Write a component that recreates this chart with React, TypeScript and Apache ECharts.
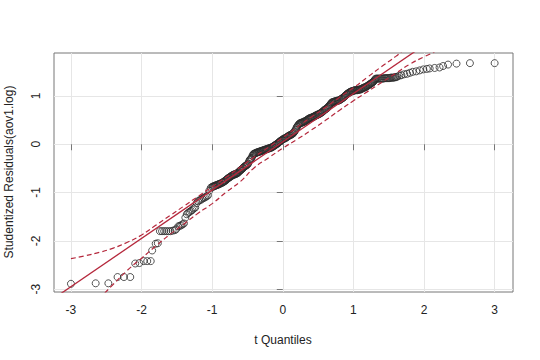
import React, { useEffect, useRef } from "react";
import * as echarts from "echarts";

const xTicks = [-3, -2, -1, 0, 1, 2, 3];
const yTicks = [-3, -2, -1, 0, 1];
const xTitle = "t Quantiles";
const yTitle = "Studentized Residuals(aov1.log)";

const points: [number, number][] = [
  [-3.0, -2.89], [-2.65, -2.88], [-2.47, -2.88], [-2.34, -2.75], [-2.25, -2.75], [-2.16, -2.75],
  [-2.09, -2.47], [-2.03, -2.46], [-1.97, -2.42], [-1.92, -2.42], [-1.87, -2.42], [-1.85, -2.2],
  [-1.8, -2.06], [-1.77, -2.05], [-1.74, -1.8], [-1.71, -1.8], [-1.68, -1.8], [-1.65, -1.8],
  [-1.62, -1.8], [-1.59, -1.8], [-1.56, -1.79], [-1.53, -1.78], [-1.51, -1.76], [-1.48, -1.7],
  [-1.46, -1.69], [-1.44, -1.68], [-1.42, -1.66], [-1.4, -1.64], [-1.38, -1.52], [-1.36, -1.45],
  [-1.34, -1.42], [-1.32, -1.4], [-1.3, -1.38], [-1.28, -1.36], [-1.26, -1.33], [-1.24, -1.31],
  [-1.22, -1.22], [-1.2, -1.18], [-1.18, -1.16], [-1.16, -1.15], [-1.14, -1.13], [-1.12, -1.11],
  [-1.1, -1.1], [-1.08, -1.08], [-1.06, -1.06], [-1.04, -0.96], [-1.02, -0.9], [-1.0, -0.88],
  [-0.99, -0.88], [-0.97, -0.87], [-0.95, -0.85], [-0.93, -0.84], [-0.91, -0.83], [-0.89, -0.82],
  [-0.98, -0.87], [-0.96, -0.86], [-0.94, -0.85], [-0.92, -0.84], [-0.9, -0.82], [-0.88, -0.81],
  [-0.86, -0.8], [-0.84, -0.78], [-0.82, -0.76], [-0.8, -0.74], [-0.78, -0.71], [-0.76, -0.69],
  [-0.85, -0.79], [-0.83, -0.77], [-0.81, -0.75], [-0.79, -0.72], [-0.77, -0.7], [-0.75, -0.68],
  [-0.74, -0.67], [-0.72, -0.65], [-0.7, -0.63], [-0.68, -0.62], [-0.66, -0.61], [-0.64, -0.6],
  [-0.73, -0.66], [-0.71, -0.64], [-0.69, -0.63], [-0.67, -0.62], [-0.65, -0.6], [-0.63, -0.58],
  [-0.62, -0.57], [-0.6, -0.54], [-0.58, -0.52], [-0.56, -0.49], [-0.54, -0.46], [-0.52, -0.44],
  [-0.61, -0.55], [-0.59, -0.53], [-0.57, -0.5], [-0.55, -0.47], [-0.53, -0.45], [-0.51, -0.43],
  [-0.5, -0.42], [-0.48, -0.36], [-0.46, -0.31], [-0.44, -0.28], [-0.42, -0.21], [-0.4, -0.19],
  [-0.49, -0.4], [-0.47, -0.33], [-0.45, -0.3], [-0.43, -0.24], [-0.41, -0.2], [-0.39, -0.19],
  [-0.38, -0.18], [-0.36, -0.17], [-0.34, -0.16], [-0.32, -0.15], [-0.3, -0.14], [-0.28, -0.13],
  [-0.37, -0.17], [-0.35, -0.16], [-0.33, -0.15], [-0.31, -0.14], [-0.29, -0.13], [-0.27, -0.12],
  [-0.26, -0.12], [-0.24, -0.11], [-0.22, -0.1], [-0.2, -0.09], [-0.18, -0.08], [-0.16, -0.07],
  [-0.25, -0.11], [-0.23, -0.1], [-0.21, -0.09], [-0.19, -0.08], [-0.17, -0.07], [-0.15, -0.06],
  [-0.14, -0.05], [-0.12, -0.03], [-0.1, -0.01], [-0.08, 0.01], [-0.06, 0.03], [-0.04, 0.06],
  [-0.13, -0.04], [-0.11, -0.02], [-0.09, 0.0], [-0.07, 0.02], [-0.05, 0.05], [-0.03, 0.07],
  [-0.02, 0.08], [0.0, 0.1], [0.02, 0.12], [0.04, 0.13], [0.06, 0.15], [0.08, 0.17], [0.1, 0.19],
  [-0.01, 0.09], [0.01, 0.11], [0.03, 0.12], [0.05, 0.14], [0.07, 0.16], [0.09, 0.18], [0.11, 0.19],
  [0.12, 0.2], [0.14, 0.22], [0.16, 0.25], [0.18, 0.3], [0.2, 0.36], [0.22, 0.4], [0.24, 0.43],
  [0.13, 0.21], [0.15, 0.23], [0.17, 0.27], [0.19, 0.33], [0.21, 0.38], [0.23, 0.42], [0.25, 0.44],
  [0.26, 0.44], [0.28, 0.45], [0.3, 0.47], [0.32, 0.48], [0.34, 0.5], [0.36, 0.52], [0.38, 0.54],
  [0.27, 0.45], [0.29, 0.46], [0.31, 0.47], [0.33, 0.49], [0.35, 0.51], [0.37, 0.53], [0.39, 0.54],
  [0.4, 0.55], [0.42, 0.56], [0.44, 0.57], [0.46, 0.59], [0.48, 0.6], [0.5, 0.62], [0.52, 0.63],
  [0.41, 0.55], [0.43, 0.57], [0.45, 0.58], [0.47, 0.6], [0.49, 0.61], [0.51, 0.62], [0.53, 0.64],
  [0.54, 0.65], [0.56, 0.67], [0.58, 0.7], [0.6, 0.72], [0.62, 0.74], [0.64, 0.77], [0.66, 0.8],
  [0.55, 0.66], [0.57, 0.68], [0.59, 0.71], [0.61, 0.73], [0.63, 0.75], [0.65, 0.78], [0.67, 0.82],
  [0.68, 0.84], [0.7, 0.87], [0.72, 0.88], [0.74, 0.89], [0.76, 0.9], [0.78, 0.9], [0.8, 0.91],
  [0.69, 0.86], [0.71, 0.87], [0.73, 0.88], [0.75, 0.89], [0.77, 0.9], [0.79, 0.91], [0.81, 0.92],
  [0.82, 0.93], [0.84, 0.95], [0.86, 0.97], [0.88, 1.0], [0.9, 1.03], [0.92, 1.05], [0.94, 1.07],
  [0.83, 0.94], [0.85, 0.96], [0.87, 0.98], [0.89, 1.01], [0.91, 1.04], [0.93, 1.06], [0.95, 1.08],
  [0.96, 1.09], [0.98, 1.1], [1.0, 1.11], [1.02, 1.12], [1.04, 1.12], [1.06, 1.12], [1.08, 1.13],
  [0.97, 1.09], [0.99, 1.1], [1.01, 1.11], [1.03, 1.12], [1.05, 1.12], [1.07, 1.13], [1.09, 1.13],
  [1.1, 1.14], [1.12, 1.15], [1.14, 1.17], [1.16, 1.18], [1.18, 1.19], [1.2, 1.21], [1.22, 1.23],
  [1.11, 1.14], [1.13, 1.16], [1.15, 1.17], [1.17, 1.18], [1.19, 1.2], [1.21, 1.22], [1.23, 1.24],
  [1.24, 1.25], [1.26, 1.27], [1.28, 1.29], [1.3, 1.33], [1.32, 1.36], [1.35, 1.36], [1.38, 1.36],
  [1.25, 1.26], [1.27, 1.28], [1.29, 1.31], [1.31, 1.35], [1.335, 1.36], [1.365, 1.36], [1.395, 1.36],
  [1.41, 1.36], [1.44, 1.37], [1.47, 1.37], [1.5, 1.37], [1.53, 1.38], [1.56, 1.38], [1.59, 1.39],
  [1.425, 1.36], [1.455, 1.37], [1.485, 1.37], [1.515, 1.37], [1.545, 1.38], [1.575, 1.38], [1.605, 1.39],
  [1.62, 1.4], [1.65, 1.42], [1.68, 1.43], [1.72, 1.45], [1.76, 1.46], [1.8, 1.48], [1.84, 1.5],
  [1.89, 1.51], [1.94, 1.53], [1.99, 1.55], [2.04, 1.56], [2.08, 1.57], [2.15, 1.58], [2.22, 1.59],
  [2.27, 1.62], [2.34, 1.65], [2.46, 1.67], [2.65, 1.68], [3.0, 1.68],
];

const upperEnvelope: [number, number][] = [
  [-3.0, -2.37], [-2.8, -2.31], [-2.6, -2.24], [-2.4, -2.15], [-2.2, -2.03], [-2.0, -1.88],
  [-1.8, -1.68], [-1.6, -1.48], [-1.4, -1.28], [-1.2, -1.08], [-1.0, -0.88], [-0.8, -0.68],
  [-0.6, -0.47], [-0.4, -0.26], [-0.2, -0.06], [0.0, 0.14], [0.2, 0.35], [0.4, 0.56],
  [0.6, 0.76], [0.8, 0.97], [1.0, 1.17], [1.2, 1.39], [1.4, 1.61], [1.6, 1.82], [1.7, 1.94],
];

const lowerEnvelope: [number, number][] = [
  [-2.52, -3.08], [-2.4, -2.9], [-2.2, -2.61], [-2.0, -2.36], [-1.8, -2.11], [-1.6, -1.87],
  [-1.4, -1.65], [-1.2, -1.43], [-1.0, -1.23], [-0.8, -0.99], [-0.6, -0.77], [-0.4, -0.48],
  [-0.2, -0.28], [0.0, -0.08], [0.2, 0.1], [0.4, 0.29], [0.6, 0.49], [0.8, 0.7], [1.0, 0.9],
  [1.2, 1.09], [1.4, 1.28], [1.6, 1.47], [1.8, 1.66], [2.0, 1.81], [2.15, 1.91],
];

const lineIntercept = 0.05;
const lineSlope = 1.0;

export default function App() {
  const ref = useRef<HTMLDivElement>(null);
  useEffect(() => {
    const chart = echarts.init(ref.current!, null, { renderer: "svg" });
    const xMin = -3.24, xMax = 3.26, yMin = -3.06, yMax = 1.89;
    const red = "#B5283C";
    const font = "Liberation Sans, Arial, Helvetica, sans-serif";
    chart.setOption({
      animation: false,
      grid: {
        left: 54, right: 27, top: 53, bottom: 68,
        show: true, borderColor: "#777", borderWidth: 1, backgroundColor: "transparent",
      },
      xAxis: {
        type: "value", min: xMin, max: xMax,
        axisLine: { show: false },
        axisTick: { show: true, customValues: xTicks, length: 6, lineStyle: { color: "#777" } },
        axisLabel: { customValues: xTicks, margin: 12, fontSize: 12, color: "#222", fontFamily: font },
        splitLine: { show: true, lineStyle: { color: "#e6e6e6", width: 1 } },
      },
      yAxis: {
        type: "value", min: yMin, max: yMax,
        axisLine: { show: false },
        axisTick: { show: true, customValues: yTicks, length: 6, lineStyle: { color: "#777" } },
        axisLabel: { customValues: yTicks, margin: 12, rotate: 90, fontSize: 12, color: "#222", fontFamily: font },
        splitLine: { show: true, lineStyle: { color: "#e6e6e6", width: 1 } },
      },
      graphic: [
        { type: "text", x: 283, y: 340, style: { text: xTitle, fill: "#222", font: `12px ${font}`, align: "center", verticalAlign: "middle" } },
        { type: "text", x: 9, y: 172, rotation: Math.PI / 2, style: { text: yTitle, fill: "#222", font: `12px ${font}`, align: "center", verticalAlign: "middle" } },
      ],
      series: [
        {
          type: "scatter", data: points, symbol: "circle", symbolSize: 7,
          itemStyle: { color: "transparent", borderColor: "#2a2a2a", borderWidth: 1 },
          silent: true,
        },
        {
          type: "line", data: upperEnvelope, showSymbol: false, smooth: true, clip: true,
          lineStyle: { color: red, width: 1.2, type: [5, 3] },
        },
        {
          type: "line", data: lowerEnvelope, showSymbol: false, smooth: true, clip: true,
          lineStyle: { color: red, width: 1.2, type: [5, 3] },
        },
        {
          type: "line",
          data: [[xMin, lineIntercept + lineSlope * xMin], [xMax, lineIntercept + lineSlope * xMax]],
          showSymbol: false, clip: true,
          lineStyle: { color: red, width: 1.3 },
        },
      ],
    });
    return () => chart.dispose();
  }, []);
  return <div ref={ref} style={{ position: "absolute", left: 0, top: 0, width: 540, height: 360 }} />;
}
